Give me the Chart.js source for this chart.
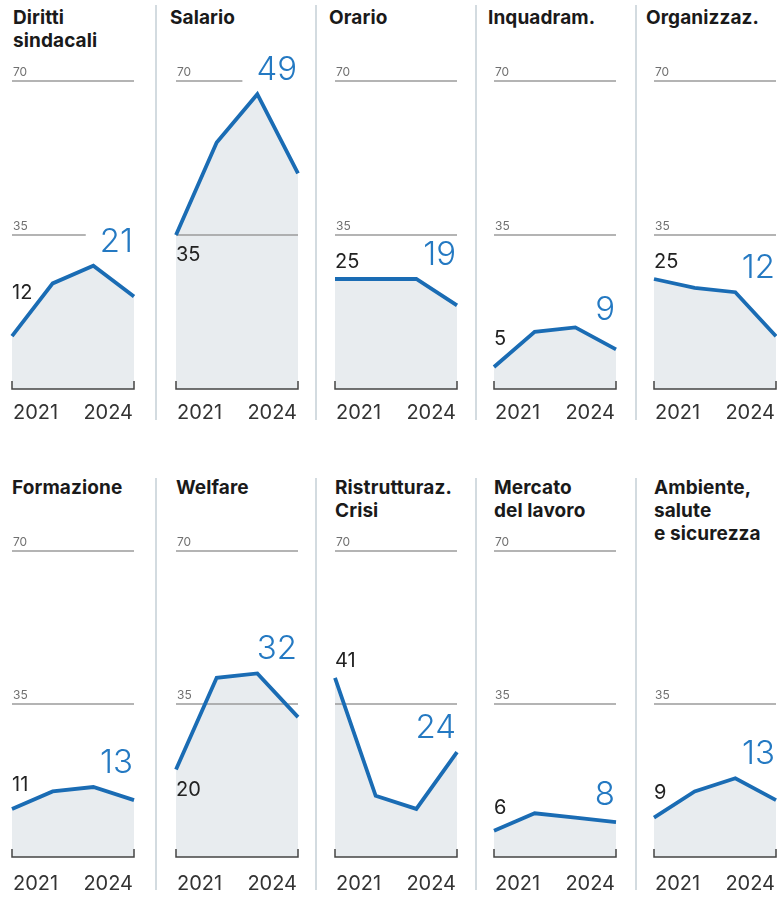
<!DOCTYPE html>
<html>
<head>
<meta charset="utf-8">
<script src="https://cdn.jsdelivr.net/npm/chart.js@4.4.1/dist/chart.umd.min.js"></script>
<style>
  body { margin: 0; background: #fff; font-family: Inter, "Liberation Sans", sans-serif; }
  #wrap { position: relative; width: 777px; height: 908px; overflow: hidden; }
  .sep { position: absolute; width: 1.5px; background: #d3dbe0; }
  .title { position: absolute; font-weight: 700; font-size: 19px; line-height: 23px; color: #1a1a1a; white-space: nowrap; letter-spacing: 0.1px; }
  canvas { position: absolute; }
</style>
</head>
<body>
<div id="wrap"></div>
<script>
// dati
const years = ['2021', '2022', '2023', '2024'];
const gridTicks = [35, 70];
const titles = [
  ['Diritti', 'sindacali'], ['Salario'], ['Orario'], ['Inquadram.'], ['Organizzaz.'],
  ['Formazione'], ['Welfare'], ['Ristrutturaz.', 'Crisi'], ['Mercato', 'del lavoro'], ['Ambiente,', 'salute', 'e sicurezza']
];
const dirittiSindacali = [12, 24, 28, 21];
const salario = [35, 56, 67, 49];
const orario = [25, 25, 25, 19];
const inquadramento = [5, 13, 14, 9];
const organizzazione = [25, 23, 22, 12];
const formazione = [11, 15, 16, 13];
const welfare = [20, 41, 42, 32];
const ristrutturazione = [41, 14, 11, 24];
const mercatoLavoro = [6, 10, 9, 8];
const ambiente = [9, 15, 18, 13];
const series = [dirittiSindacali, salario, orario, inquadramento, organizzazione,
  formazione, welfare, ristrutturazione, mercatoLavoro, ambiente];

// layout
const plotLefts = [12, 176, 335, 494, 654];
const plotWidth = 122;
const rows = [
  { top: 0, height: 430, areaTop: 81, areaBottom: 389, titleTop: 6, titleShift: [1, -6, -6, -6, -8], sepTop: 5, sepBottom: 420, yearGap: 24 },
  { top: 460, height: 448, areaTop: 91, areaBottom: 397, titleTop: 476, titleShift: [0, 0, 0, 0, 0], sepTop: 478, sepBottom: 890, yearGap: 27 }
];
const sepX = [155, 315, 475, 635];

const BLUE = '#1a6cb4';
const LABEL_BLUE = '#2479c2';
const FILL = '#e8ecef';
const FIRST_FONT = '20px Inter, sans-serif';
const LAST_FONT = '300 33px Inter, sans-serif';

function lineYAt(chart, px) {
  const pts = chart.getDatasetMeta(0).data;
  for (let i = 0; i < pts.length - 1; i++) {
    const a = pts[i], b = pts[i + 1];
    if (px >= a.x && px <= b.x) return a.y + (b.y - a.y) * (px - a.x) / (b.x - a.x);
  }
  return px < pts[0].x ? pts[0].y : pts[pts.length - 1].y;
}

// min/max pixel y of the line between x0 and x1
function lineRange(chart, x0, x1) {
  const pts = chart.getDatasetMeta(0).data;
  const ys = [lineYAt(chart, x0), lineYAt(chart, x1)];
  pts.forEach(p => { if (p.x >= x0 && p.x <= x1) ys.push(p.y); });
  return [Math.min(...ys), Math.max(...ys)];
}

function labelBoxes(chart) {
  const { ctx, chartArea: a } = chart;
  const vals = chart.data.datasets[0].data;
  const pts = chart.getDatasetMeta(0).data;
  ctx.save();
  ctx.font = FIRST_FONT;
  const w1 = ctx.measureText(String(vals[0])).width;
  ctx.font = LAST_FONT;
  const w2 = ctx.measureText(String(vals[vals.length - 1])).width;
  ctx.restore();

  let first;
  if (vals[1] - vals[0] > 15) {
    first = { x: a.left, y: pts[0].y + 10, base: 'top' };
  } else {
    const [minY] = lineRange(chart, a.left, a.left + w1);
    first = { x: a.left, y: minY - 11, base: 'alphabetic' };
  }
  const right = a.right - 1;
  const [minY2] = lineRange(chart, right - w2 - 8, a.right);
  const last = { x: right, y: minY2 - 14, left: right - w2, top: minY2 - 14 - 24 };
  return { first, last };
}

const panelDecor = {
  id: 'panelDecor',
  beforeDatasetsDraw(chart, args, opts) {
    const { ctx, chartArea: a, scales: { y } } = chart;
    const { last } = labelBoxes(chart);
    ctx.save();
    gridTicks.forEach(t => {
      if (t === 70 && opts.titleLines >= 3) return;
      const py = y.getPixelForValue(t);
      let endX = a.right;
      if (py >= last.top - 2 && py <= last.y + 2) endX = last.left - 14;
      ctx.strokeStyle = '#9b9b9b';
      ctx.lineWidth = 1.5;
      ctx.beginPath();
      ctx.moveTo(a.left, py);
      ctx.lineTo(endX, py);
      ctx.stroke();
      const [minY, maxY] = lineRange(chart, a.left, a.left + 16);
      if (maxY < py - 16 || minY > py - 2) {
        ctx.font = '12px Inter, sans-serif';
        ctx.fillStyle = '#707070';
        ctx.textBaseline = 'alphabetic';
        ctx.textAlign = 'left';
        ctx.fillText(String(t), a.left + 1, py - 5);
      }
    });
    ctx.restore();
  },
  afterDatasetsDraw(chart, args, opts) {
    const { ctx, chartArea: a } = chart;
    const vals = chart.data.datasets[0].data;
    const labels = chart.data.labels;
    const { first, last } = labelBoxes(chart);
    ctx.save();
    // bracket
    ctx.strokeStyle = '#444';
    ctx.lineWidth = 1.5;
    ctx.beginPath();
    ctx.moveTo(a.left, a.bottom - 8);
    ctx.lineTo(a.left, a.bottom);
    ctx.lineTo(a.right, a.bottom);
    ctx.lineTo(a.right, a.bottom - 8);
    ctx.stroke();
    // anni
    ctx.font = '20px Inter, sans-serif';
    ctx.fillStyle = '#333';
    ctx.textBaseline = 'middle';
    ctx.textAlign = 'left';
    ctx.fillText(labels[0], a.left + 1, a.bottom + opts.yearGap);
    ctx.textAlign = 'right';
    ctx.fillText(labels[labels.length - 1], a.right - 1, a.bottom + opts.yearGap);
    // valori
    ctx.font = FIRST_FONT;
    ctx.fillStyle = '#222';
    ctx.textAlign = 'left';
    ctx.textBaseline = first.base;
    ctx.fillText(String(vals[0]), first.x, first.y);
    ctx.font = LAST_FONT;
    ctx.fillStyle = LABEL_BLUE;
    ctx.textAlign = 'right';
    ctx.textBaseline = 'alphabetic';
    ctx.fillText(String(vals[vals.length - 1]), last.x, last.y);
    ctx.restore();
  }
};

const wrap = document.getElementById('wrap');

rows.forEach(r => {
  sepX.forEach(x => {
    const s = document.createElement('div');
    s.className = 'sep';
    s.style.left = x + 'px';
    s.style.top = r.sepTop + 'px';
    s.style.height = (r.sepBottom - r.sepTop) + 'px';
    wrap.appendChild(s);
  });
});

series.forEach((vals, i) => {
  const r = rows[Math.floor(i / 5)];
  const col = i % 5;
  const left = plotLefts[col];

  const t = document.createElement('div');
  t.className = 'title';
  t.style.left = (left + r.titleShift[col]) + 'px';
  t.style.top = r.titleTop + 'px';
  t.innerHTML = titles[i].join('<br>');
  wrap.appendChild(t);

  const cv = document.createElement('canvas');
  const cw = 12 + plotWidth + 16;
  cv.width = cw;
  cv.height = r.height;
  cv.style.left = (left - 12) + 'px';
  cv.style.top = r.top + 'px';
  cv.style.width = cw + 'px';
  cv.style.height = r.height + 'px';
  wrap.appendChild(cv);

  new Chart(cv, {
    type: 'line',
    data: {
      labels: years,
      datasets: [{
        data: vals,
        borderColor: BLUE,
        backgroundColor: FILL,
        borderWidth: 3.8,
        borderJoinStyle: 'miter',
        pointRadius: 0,
        tension: 0,
        fill: 'origin'
      }]
    },
    options: {
      responsive: false,
      animation: false,
      devicePixelRatio: 1,
      layout: { padding: { left: 12, right: 16, top: r.areaTop, bottom: r.height - r.areaBottom } },
      plugins: {
        legend: { display: false },
        tooltip: { enabled: false },
        filler: { drawTime: 'beforeDatasetsDraw' },
        panelDecor: { titleLines: titles[i].length, yearGap: r.yearGap }
      },
      scales: {
        x: { type: 'category', display: false },
        y: { min: 0, max: 70, display: false }
      }
    },
    plugins: [panelDecor]
  });
});
</script>
</body>
</html>
